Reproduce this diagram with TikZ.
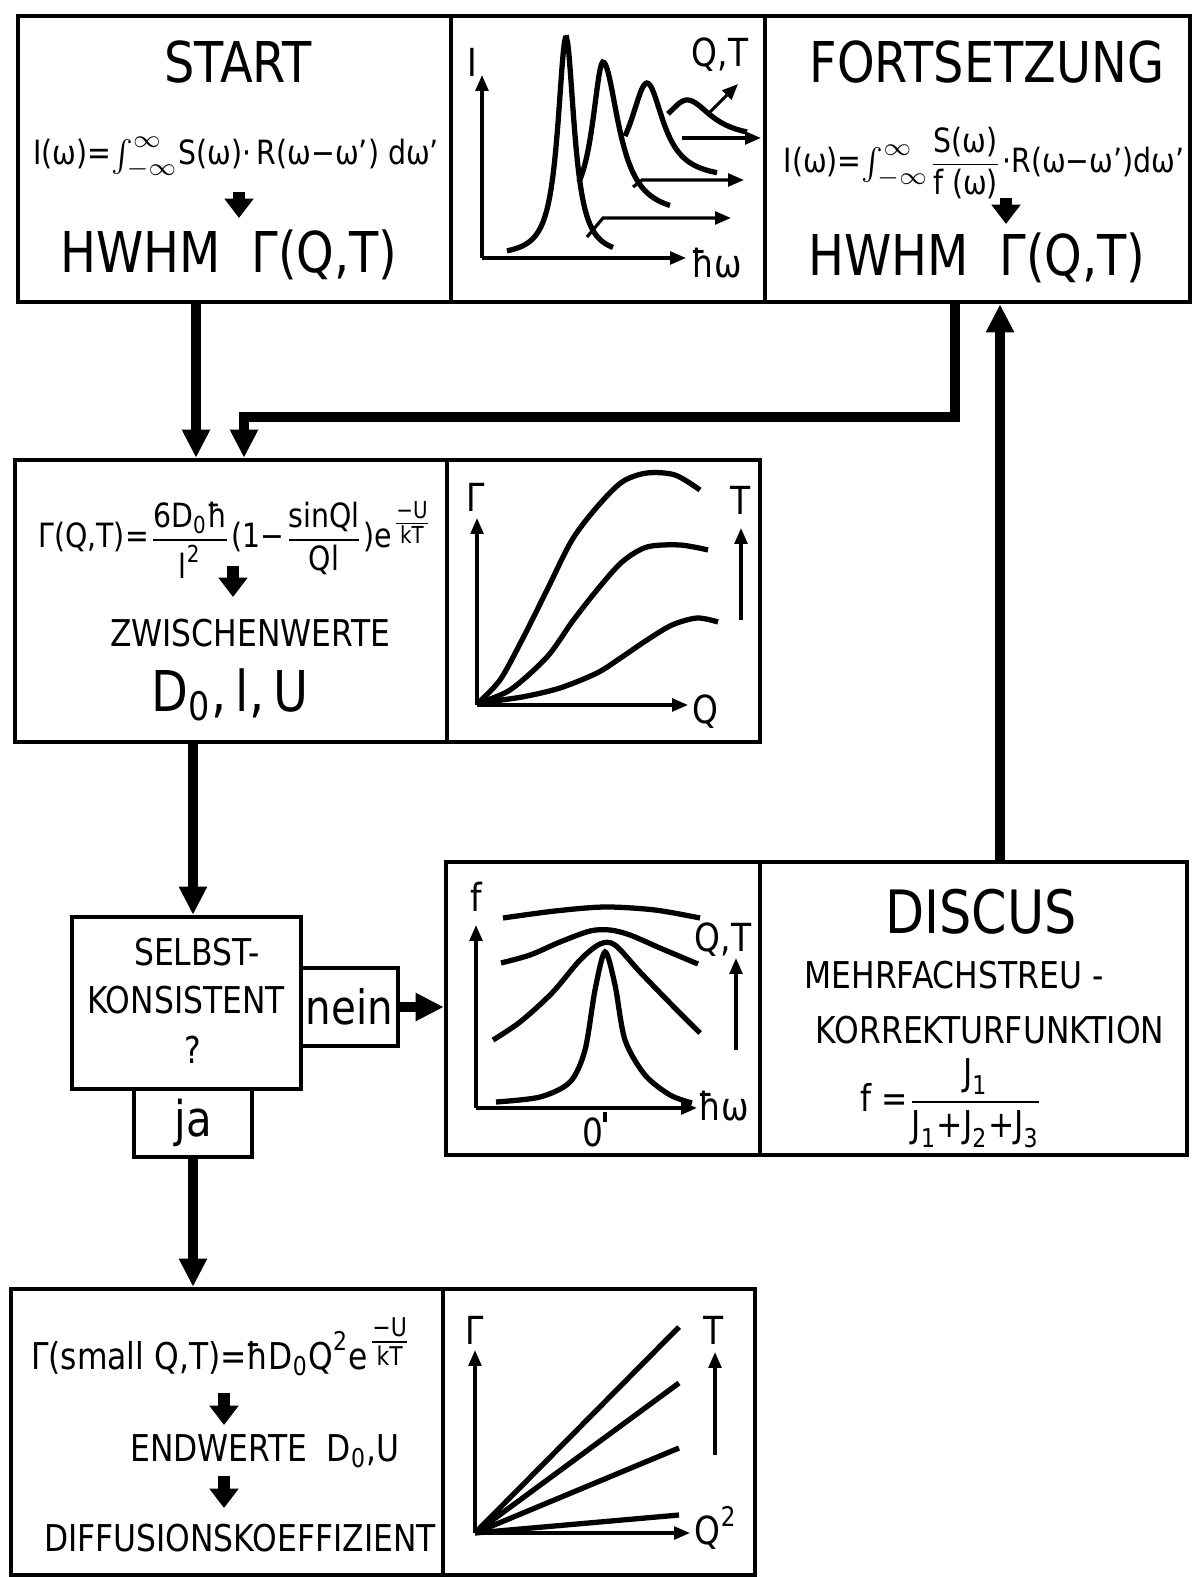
\documentclass[tikz,border=0pt]{standalone}
\usepackage{amsmath}
\usepackage{fontspec}
\setmainfont[FakeStretch=0.85]{DejaVu Sans}
\usetikzlibrary{arrows.meta, positioning, calc}

\begin{document}
\begin{tikzpicture}[x=0.01cm, y=-0.01cm,
	box/.style={draw, line width=1.2pt, inner sep=0pt},
	flow/.style={-{Triangle[length=8pt,width=7.5pt]}, line width=2.6pt},
	fat/.style={-{Triangle[length=5.5pt,width=8pt]}, line width=3.4pt},
	axis/.style={-{Triangle[length=4.5pt,width=3.6pt]}, line width=0.9pt},
	kurve/.style={line width=1.5pt},
	big/.style={font=\fontsize{16}{19}\selectfont},
	txt/.style={font=\fontsize{10.5}{12}\selectfont},
	frm/.style={font=\fontsize{9.5}{11}\selectfont, inner sep=0pt},
	lab/.style={font=\fontsize{11}{13}\selectfont}]

	\useasboundingbox (0,0) rectangle (1194,1577);

	\node[box, minimum width=4.33cm, minimum height=2.86cm] (start)  at (234.5,159) {};
	\node[box, minimum width=3.14cm, minimum height=2.86cm] (spek)   at (608,159) {};
	\node[box, minimum width=4.25cm, minimum height=2.86cm] (fort)   at (977.5,159) {};
	\node[box, minimum width=4.32cm, minimum height=2.82cm] (zwi)    at (231,601) {};
	\node[box, minimum width=3.13cm, minimum height=2.82cm] (gam)    at (603.5,601) {};
	\node[box, minimum width=2.29cm, minimum height=1.72cm] (selbst) at (186.5,1003) {};
	\node[box, minimum width=0.97cm, minimum height=0.78cm,
		font=\fontsize{13.5}{15}\selectfont] (nein) at (349.5,1007) {nein};
	\node[box, minimum width=1.18cm, minimum height=0.68cm,
		font=\fontsize{14}{16}\selectfont] (ja) at (193,1123) {ja};
	\node[box, minimum width=3.14cm, minimum height=2.93cm] (korr)   at (603,1008.5) {};
	\node[box, minimum width=4.27cm, minimum height=2.93cm] (discus) at (973.5,1008.5) {};
	\node[box, minimum width=4.32cm, minimum height=2.86cm] (ende)   at (227,1432) {};
	\node[box, minimum width=3.12cm, minimum height=2.86cm] (lin)    at (599,1432) {};

	\coordinate (k1) at (196,0);
	\coordinate (k2) at (955,417);
	\coordinate (k3) at (244,417);
	\coordinate (k4) at (1000,0);
	\coordinate (k5) at (193,0);

	\draw[flow] (start.south -| k1) -- (zwi.north -| k1);
	\draw[flow] (fort.south -| k2) |- (k3) -- (zwi.north -| k3);
	\draw[flow] (discus.north -| k4) -- (fort.south -| k4);
	\draw[flow] (zwi.south -| k5) -- (selbst.north -| k5);
	\draw[flow] (nein.east) -- (nein.east -| korr.west);
	\draw[flow] (ja.south) -- (ja.south |- ende.north);

	\node[big] (t1) at (238,62) {START};
	\node[frm] (f1) at (236,158)
		{$\text{I(ω)=}\!\int_{-\infty}^{\infty}\!\text{S(ω)·\,R(ω−ω') dω'}$};
	\draw[fat] (239,192) -- (239,218);
	\node[big] (h1) at (229,255) {HWHM~~Γ(Q,T)};

	\node[big] (t3) at (987,62) {FORTSETZUNG};
	\node[frm] (f3) at (984,163)
		{$\text{I(ω)=}\!\int_{-\infty}^{\infty}\!\dfrac{\text{S(ω)}}{\text{f (ω)}}\text{·R(ω−ω')dω'}$};
	\draw[fat] (1006,198) -- (1006,224);
	\node[big] (h3) at (977,258) {HWHM~~Γ(Q,T)};

	\draw[axis] (482,258) -- (482,75);
	\draw[axis] (482,258) -- (686,258);
	\node[lab] (yI) at (472,62) {I};
	\node[lab] (xI) at (717,263) {ħω};
	\draw[kurve] plot[domain=507:613, samples=90] (\x, {257-220/(1+((\x-566)/10)^2)});
	\draw[kurve] plot[domain=579:670, samples=70] (\x, {217-155/(1+((\x-603)/(\x<603 ? 13 : 19))^2)});
	\draw[kurve] plot[domain=625:717, samples=60] (\x, {180-97/(1+((\x-647)/20)^2)});
	\draw[kurve] plot[domain=668:747, samples=50] (\x, {140-40/(1+((\x-687)/(\x<687 ? 26 : 30))^2)});
	\draw[axis] (587,237) -- (603,218) -- (731,218);
	\draw[axis] (633,187) -- (642,180) -- (744,180);
	\draw[axis] (682,138) -- (761,138);
	\draw[axis] (710,112) -- (738,84);
	\node[lab] (qI) at (720,55) {Q,T};

	\node[frm] (f2) at (236,540)
		{$\text{Γ(Q,T)=}\dfrac{\text{6D}_{\text{0}}\text{ħ}}{\text{l}^{\text{2}}}\text{(1−}\dfrac{\text{sinQl}}{\text{Ql}}\text{)e}^{\genfrac{}{}{}{1}{\text{−U}}{\text{kT}}}$};
	\draw[fat] (233,566) -- (233,597);
	\node[txt] (zw) at (250,633) {ZWISCHENWERTE};
	\node[big] (dlu) at (230,695) {D$_{\text{0}}$,\,l,\,U};

	\draw[axis] (477,705) -- (477,518);
	\draw[axis] (477,705) -- (688,705);
	\draw[axis] (741,620) -- (741,528);
	\node[lab] (yG) at (476,497) {Γ};
	\node[lab] (xG) at (705,712) {Q};
	\node[lab] (tG) at (741,500) {T};
	\draw[kurve] plot[smooth] coordinates {(478,703) (500,680) (522,640) (547,590) (572,540)
		(597,507) (622,482) (647,473) (675,475) (700,490)};
	\draw[kurve] plot[smooth] coordinates {(478,703) (510,690) (547,657) (572,622) (597,590)
		(622,562) (647,547) (680,545) (708,550)};
	\draw[kurve] plot[smooth] coordinates {(478,703) (522,697) (560,688) (597,673) (622,657)
		(647,640) (672,625) (697,618) (718,622)};

	\node[txt] (s1) at (197,952) {SELBST-};
	\node[txt] (s2) at (186,1000) {KONSISTENT};
	\node[txt] (s3) at (193,1050) {?};

	\draw[axis] (476,1108) -- (476,925);
	\draw[axis] (476,1108) -- (697,1108);
	\draw[axis] (736,1050) -- (736,958);
	\draw[line width=0.9pt] (605,1112) -- (605,1122);
	\node[lab] (yF) at (476,897) {f};
	\node[lab] (xF) at (724,1106) {ħω};
	\node[lab] (nF) at (593,1132) {0};
	\node[lab] (qF) at (723,940) {Q,T};
	\draw[kurve] plot[smooth] coordinates {(503,918) (555,911) (605,907) (655,910) (700,918)};
	\draw[kurve] plot[smooth] coordinates {(501,963) (530,955) (560,942) (590,931) (610,930)
		(630,935) (660,948) (698,964)};
	\draw[kurve] plot[smooth] coordinates {(493,1040) (520,1022) (552,993) (580,960) (600,944)
		(615,945) (640,972) (670,1003) (700,1033)};
	\draw[kurve] plot[smooth] coordinates {(496,1102) (540,1097) (570,1082) (585,1050) (595,990)
		(605,952) (615,985) (625,1040) (645,1075) (670,1095) (692,1103)};

	\node[font=\fontsize{17}{20}\selectfont] (d1) at (981,912) {DISCUS};
	\node[txt] (d2) at (954,975) {MEHRFACHSTREU~-};
	\node[txt] (d3) at (990,1030) {KORREKTURFUNKTION};
	\node[txt] (d4) at (952,1103)
		{$\text{f =}\dfrac{\text{J}_{\text{1}}}{\text{J}_{\text{1}}\text{+J}_{\text{2}}\text{+J}_{\text{3}}}$};

	\node[txt] (e1) at (222,1347)
		{$\text{Γ(small Q,T)=ħD}_{\text{0}}\text{Q}^{\text{2}}\text{e}^{\genfrac{}{}{}{1}{\text{−U}}{\text{kT}}}$};
	\draw[fat] (224,1393) -- (224,1425);
	\node[txt] (e2) at (265,1451) {ENDWERTE~~D$_{\text{0}}$,U};
	\draw[fat] (224,1476) -- (224,1508);
	\node[txt] (e3) at (240,1538) {DIFFUSIONSKOEFFIZIENT};

	\draw[axis] (475,1533) -- (475,1350);
	\draw[axis] (475,1533) -- (690,1533);
	\draw[axis] (715,1455) -- (715,1352);
	\node[lab] (yL) at (475,1330) {Γ};
	\node[lab] (xL) at (716,1528) {$\text{Q}^{\text{2}}$};
	\node[lab] (tL) at (714,1330) {T};
	\foreach \e in {1327,1383,1448,1515}
		\draw[kurve] (475,1533) -- (679,\e);
\end{tikzpicture}
\end{document}
